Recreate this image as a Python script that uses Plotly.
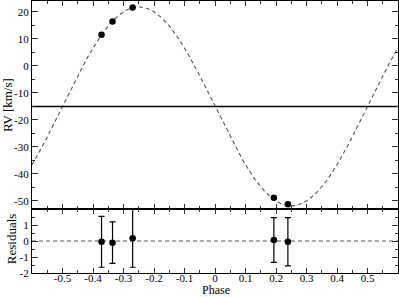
import numpy as np
import plotly.graph_objects as go

# ---- data ----
phase_obs = [-0.372, -0.336, -0.270, 0.193, 0.239]
rv_obs = [11.5, 16.4, 21.6, -48.8, -51.2]
resid = [-0.05, -0.10, 0.17, 0.06, -0.05]
resid_err = [1.59, 1.30, 1.81, 1.40, 1.51]

# circular-orbit model parameters (fit curve)
K_amp = 36.8
gamma = -15.0

x_tickvals = [-0.5, -0.4, -0.3, -0.2, -0.1, 0, 0.1, 0.2, 0.3, 0.4, 0.5]
x_ticktext = ["-0.5", "-0.4", "-0.3", "-0.2", "-0.1", "0", "0.1", "0.2", "0.3", "0.4", "0.5"]
rv_tickvals = [-50, -40, -30, -20, -10, 0, 10, 20]
rv_ticktext = ["-50", "-40", "-30", "-20", "-10", "0", "10", "20"]
res_tickvals = [-2, -1, 0, 1]
res_ticktext = ["-2", "-1", "0", "1"]

phase_model = np.linspace(-0.6, 0.6, 481)
rv_model = gamma - K_amp * np.sin(2 * np.pi * phase_model)

FONT = "Liberation Serif"
fig = go.Figure()

fig.add_trace(go.Scatter(x=phase_model, y=rv_model, mode="lines",
                         line=dict(color="#555555", width=1.1, dash="4px,3px"),
                         xaxis="x", yaxis="y", hoverinfo="skip"))
fig.add_trace(go.Scatter(x=[-0.6, 0.6], y=[gamma, gamma], mode="lines",
                         line=dict(color="black", width=1.5),
                         xaxis="x", yaxis="y", hoverinfo="skip"))
fig.add_trace(go.Scatter(x=phase_obs, y=rv_obs, mode="markers",
                         marker=dict(color="black", size=6.5),
                         xaxis="x", yaxis="y"))

fig.add_trace(go.Scatter(x=[-0.6, 0.6], y=[0, 0], mode="lines",
                         line=dict(color="#555555", width=1.1, dash="4px,3px"),
                         xaxis="x2", yaxis="y2", hoverinfo="skip"))
fig.add_trace(go.Scatter(x=phase_obs, y=resid, mode="markers",
                         marker=dict(color="black", size=6.5),
                         error_y=dict(type="data", array=resid_err, visible=True,
                                      color="black", thickness=1.2, width=3),
                         xaxis="x2", yaxis="y2"))

split = 0.235
common = dict(showline=True, linecolor="black", linewidth=1.2, mirror="ticks",
              ticks="inside", tickcolor="#333333", showgrid=False, zeroline=False,
              automargin=False,
              tickfont=dict(family=FONT, size=11, color="black"))

fig.update_layout(
    width=399, height=297,
    margin=dict(l=32, r=1, t=1, b=24, autoexpand=False),
    paper_bgcolor="white", plot_bgcolor="white",
    showlegend=False,
    font=dict(family=FONT, color="black"),
    xaxis=dict(**common, range=[-0.6, 0.6], domain=[0, 1], anchor="y",
               tickmode="array", tickvals=x_tickvals, showticklabels=False,
               ticklen=5, minor=dict(tickmode="linear", tick0=0, dtick=0.05,
                                     ticks="inside", ticklen=3, tickcolor="#333333")),
    yaxis=dict(**common, range=[-53, 24], domain=[split, 1], anchor="x",
               tickmode="array", tickvals=rv_tickvals, ticktext=rv_ticktext,
               ticklen=6, minor=dict(tickmode="linear", tick0=0, dtick=5,
                                     ticks="inside", ticklen=3, tickcolor="#333333")),
    xaxis2=dict(**common, range=[-0.6, 0.6], domain=[0, 1], anchor="y2",
                tickmode="array", tickvals=x_tickvals, ticktext=x_ticktext,
                ticklabelstandoff=-5,
                ticklen=5, minor=dict(tickmode="linear", tick0=0, dtick=0.05,
                                      ticks="inside", ticklen=3, tickcolor="#333333")),
    yaxis2=dict(**common, range=[-2, 2], domain=[0, split], anchor="x2",
                tickmode="array", tickvals=res_tickvals, ticktext=res_ticktext,
                ticklen=6, minor=dict(tickmode="linear", tick0=0, dtick=0.5,
                                      ticks="inside", ticklen=3, tickcolor="#333333")),
    annotations=[
        dict(text="RV [km/s]", textangle=-90, xref="paper", yref="paper",
             x=-0.065, y=0.618, xanchor="center", yanchor="middle",
             showarrow=False, font=dict(family=FONT, size=13)),
        dict(text="Residuals", textangle=-90, xref="paper", yref="paper",
             x=-0.057, y=0.125, xanchor="center", yanchor="middle",
             showarrow=False, font=dict(family=FONT, size=13)),
        dict(text="Phase", xref="paper", yref="paper", x=0.504, y=-0.062,
             xanchor="center", yanchor="middle",
             showarrow=False, font=dict(family=FONT, size=12)),
    ],
)

fig.write_html("out.html", config={"displayModeBar": False},
               post_script="document.body.style.margin='0';")
